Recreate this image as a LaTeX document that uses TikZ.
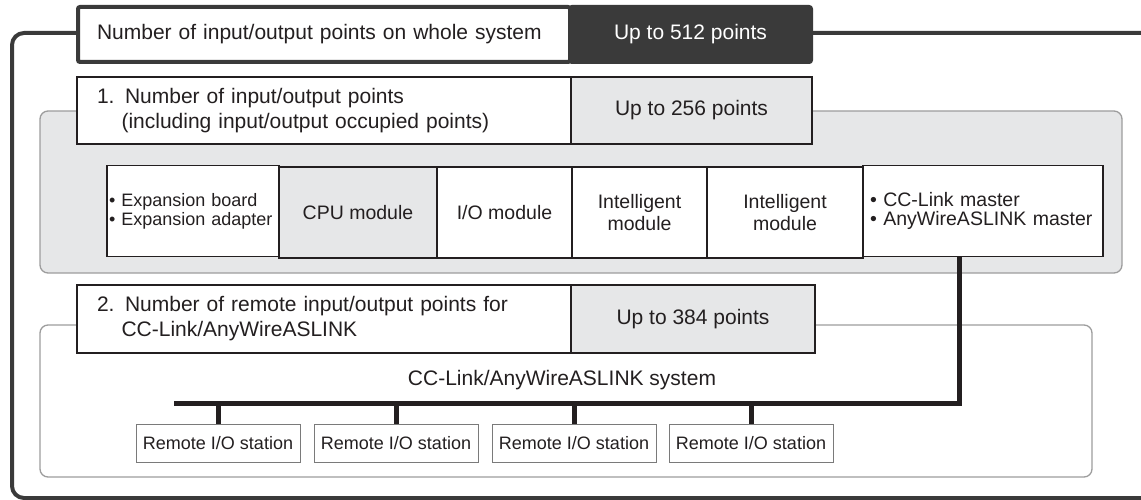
\documentclass[tikz,border=0pt]{standalone}
\usepackage{fontspec}
\setmainfont{Liberation Sans}
\definecolor{dk}{HTML}{3A3A3A}
\definecolor{lg}{HTML}{E6E7E8}
\definecolor{rb}{HTML}{9D9D9D}
\definecolor{ink}{HTML}{231F20}
\definecolor{rbox}{HTML}{7A7A7A}
\begin{document}
\begin{tikzpicture}[x=1pt,y=-1pt,
  bigtxt/.style={text=ink,font=\fontsize{21}{25}\selectfont},
  hdrleft/.style={draw=dk,line width=4pt,fill=white,rounded corners=2pt,minimum height=55pt,inner xsep=19pt,inner ysep=0pt,align=left,bigtxt},
  hdrright/.style={draw=dk,line width=4pt,fill=dk,rounded corners=2pt,minimum height=55pt,inner sep=0pt,text=white,font=\fontsize{21}{25}\selectfont},
  secleft/.style={draw=ink,line width=1.3pt,fill=white,inner xsep=20pt,inner ysep=0pt,align=left,bigtxt},
  secright/.style={draw=ink,line width=1.3pt,fill=lg,inner sep=0pt,bigtxt},
  cell/.style={draw=ink,line width=1.3pt,fill=white,minimum height=91pt,inner sep=0pt,align=center,text=ink,font=\fontsize{19.5}{22}\selectfont},
  bulletcell/.style={cell,align=left,font=\fontsize{19.5}{19.5}\selectfont},
  region/.style={draw=rb,line width=1.3pt,rounded corners=8pt},
  frame/.style={draw=dk,line width=4pt,rounded corners=12pt},
  bus/.style={draw=ink,line width=5pt},
  remote/.style={draw=rbox,line width=0.8pt,fill=white,minimum width=164pt,minimum height=38pt,inner sep=0pt,text=ink,font=\fontsize{18}{20}\selectfont}
]
\useasboundingbox (0,0) rectangle (1141,500);
\clip (0,0) rectangle (1141,500);

% outer frame
\draw[frame] (12,33) rectangle (1180,498);

% regions
\draw[region,fill=lg] (40,111) rectangle (1122,273);
\draw[region,fill=white] (40,325) rectangle (1092,477);

% header
\node[hdrleft,minimum width=492pt,text width=454pt] (hl) at (324,34.5) {Number of input/output points on whole system};
\node[hdrright,minimum width=241pt] (hr) at (690.5,34.5) {Up to 512 points};

% section 1
\node[secleft,minimum width=494pt,text width=454pt,minimum height=67pt] (s1l) at (324,110.5) {1. Number of input/output points\\\phantom{1.~}(including input/output occupied points)};
\node[secright,minimum width=241pt,minimum height=67pt] (s1r) at (691.5,110.5) {Up to 256 points};

% modules
\node[bulletcell,minimum width=172pt,text width=168pt,inner xsep=2pt,font=\fontsize{18}{19}\selectfont] (c1) at (193,211) {\textbullet{} Expansion board\\\textbullet{} Expansion adapter};
\node[cell,minimum width=158pt,fill=lg] (c2) at (358,212.5) {CPU module};
\node[cell,minimum width=135pt] (c3) at (504.5,212.5) {I/O module};
\node[cell,minimum width=135pt] (c4) at (639.5,212.5) {Intelligent\\module};
\node[cell,minimum width=156pt] (c5) at (785,212.5) {Intelligent\\module};
\node[bulletcell,minimum width=240pt,text width=226pt,inner xsep=7pt] (c6) at (983,211) {\textbullet{} CC-Link master\\\textbullet{} AnyWireASLINK master};

% section 2
\node[secleft,minimum width=494pt,text width=454pt,minimum height=68pt] (s2l) at (324,319) {2. Number of remote input/output points for\\\phantom{2.~}CC-Link/AnyWireASLINK};
\node[secright,minimum width=244pt,minimum height=68pt] (s2r) at (693,319) {Up to 384 points};

% system label
\node[bigtxt,inner sep=0pt] (sys) at (562,380) {CC-Link/AnyWireASLINK system};

% remote stations
\node[remote] (r1) at (218,443) {Remote I/O station};
\node[remote] (r2) at (396,443) {Remote I/O station};
\node[remote] (r3) at (574,443) {Remote I/O station};
\node[remote] (r4) at (751,443) {Remote I/O station};

% bus
\coordinate (busL) at (174,403);
\coordinate (busR) at (959,403);
\draw[bus] (c6.south -| busR) -- (busR) -- (busL);
\foreach \r in {r1,r2,r3,r4}{
  \draw[bus] (\r.north) -- (\r.north |- busL);
}
\end{tikzpicture}
\end{document}
